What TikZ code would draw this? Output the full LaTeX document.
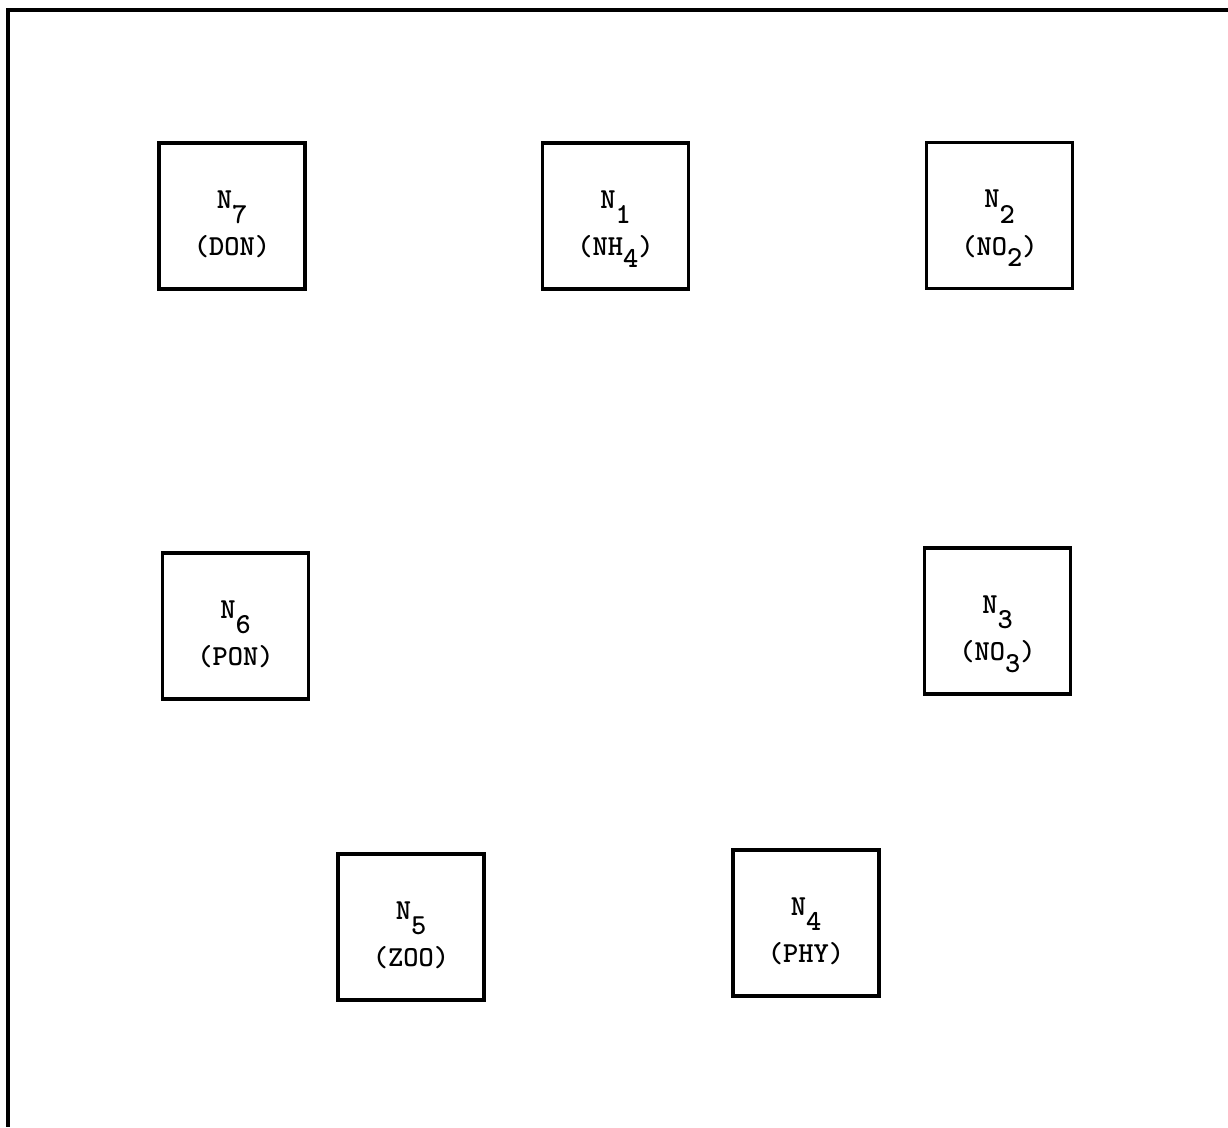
\documentclass[tikz,border=0pt]{standalone}
\usepackage{fontspec}
% subscript digit set at full size, dropped below the baseline
\newcommand\dropsub[1]{\raisebox{-6.8pt}{#1}}
% two-line pool label: N with dropped index, then the species name
\newcommand\poollabel[2]{%
  \smash{\makebox[0pt]{\raisebox{4.5pt}{N\raisebox{-9pt}{#1}}}}%
  \smash{\makebox[0pt]{\raisebox{-22.5pt}{#2}}}}
\begin{document}
\begin{tikzpicture}[x=0.02cm,y=-0.02cm,
  pool/.style={draw, line width=2.2pt, minimum width=2.92cm, minimum height=2.92cm,
    inner sep=0pt, font=\fontsize{16.5}{18}\selectfont\ttfamily\bfseries},
  frame/.style={line width=1.8pt}]
\useasboundingbox (0,0) rectangle (1228,1127);
% open frame: top edge and left edge
\coordinate (ftr) at (1228,10);
\coordinate (ftl) at (8,10);
\coordinate (fbl) at (8,1127);
\draw[frame] (ftr) -- (ftl) -- (fbl);
% nitrogen pools
\node[pool] (n7) at (232,216)   {\poollabel{7}{(DON)}};
\node[pool] (n1) at (615.5,216) {\poollabel{1}{(NH\dropsub{4})}};
\node[pool] (n2) at (999.5,215.5) {\poollabel{2}{(NO\dropsub{2})}};
\node[pool] (n6) at (235.5,626) {\poollabel{6}{(PON)}};
\node[pool] (n3) at (997.5,621) {\poollabel{3}{(NO\dropsub{3})}};
\node[pool] (n5) at (411,927)   {\poollabel{5}{(ZOO)}};
\node[pool] (n4) at (806,923)   {\poollabel{4}{(PHY)}};
\end{tikzpicture}
\end{document}
